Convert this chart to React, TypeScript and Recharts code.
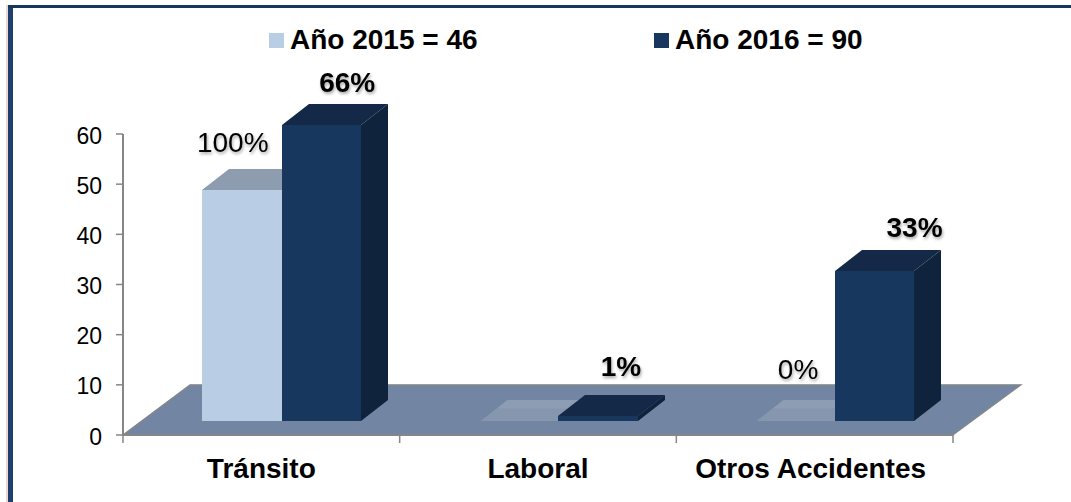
import React from 'react';
import { BarChart, Bar, XAxis, YAxis, Legend, ReferenceArea, LabelList } from 'recharts';

const categories = ['Tránsito', 'Laboral', 'Otros Accidentes'];
const values2015 = [46, 0, 0];
const values2016 = [59, 1, 30];
const labels2015 = ['100%', '', '0%'];
const labels2016 = ['66%', '1%', '33%'];
const yTicks = [0, 10, 20, 30, 40, 50, 60];
const name2015 = 'Año 2015 = 46';
const name2016 = 'Año 2016 = 90';

const rows = categories.map((c, i) => ({ c, a: values2015[i], b: values2016[i] }));

const FONT = '"Liberation Sans", Arial, sans-serif';
const AXIS = '#868686';
const PLOT_W = 830;
const SHIFT_X = 20;
const SHIFT_Y = 14;
const DEPTH_X = 27;
const DEPTH_Y = 21;
const SHADOW = 'drop-shadow(1px 2px 1.5px rgba(0,0,0,0.35))';

const pts = (p: number[][]) => p.map((q) => q.join(',')).join(' ');

function box(front: string, top: string, side: string, zeroFill: string) {
  return (props: any) => {
    const { x, y, width, height } = props;
    const l = Math.round(x + SHIFT_X);
    const r = Math.round(x + SHIFT_X + width);
    const t = Math.round(y - SHIFT_Y);
    const b = Math.round(y - SHIFT_Y + height);
    if (height < 0.5) {
      const zl = l + 1.5;
      return (
        <g>
          <polygon points={pts([[zl, b], [r, b], [r + DEPTH_X, b - DEPTH_Y], [zl + DEPTH_X, b - DEPTH_Y]])} fill={zeroFill} />
          <polygon points={pts([[zl + DEPTH_X * 0.6, b - DEPTH_Y * 0.6], [r + DEPTH_X * 0.6, b - DEPTH_Y * 0.6], [r + DEPTH_X, b - DEPTH_Y], [zl + DEPTH_X, b - DEPTH_Y]])} fill="#ffffff" fillOpacity={0.07} />
        </g>
      );
    }
    return (
      <g>
        <polygon points={pts([[l, t], [r, t], [r + DEPTH_X, t - DEPTH_Y], [l + DEPTH_X, t - DEPTH_Y]])} fill={top} />
        <polygon points={pts([[r, t], [r + DEPTH_X, t - DEPTH_Y], [r + DEPTH_X, b - DEPTH_Y], [r, b]])} fill={side} />
        <rect x={l} y={t} width={r - l} height={b - t} fill={front} />
      </g>
    );
  };
}

const floor = (props: any) => {
  const { x, y, width, height } = props;
  const b = y + height;
  return (
    <polygon
      points={pts([[x, b], [x + width, b], [x + width + 68, y], [x + 67, y]])}
      fill="#7286a3"
      stroke={AXIS}
      strokeWidth={1.2}
    />
  );
};

const nudges2015: Record<string, number[]> = { '100%': [11, -52], '0%': [23, -56] };
const nudges2016: Record<string, number[]> = { '66%': [46, -47], '1%': [43, -54], '33%': [60, -48] };

function dataLabel(labels: string[], nudges: Record<string, number[]>, weight: number) {
  return (props: any) => {
    const { x, y, width, index } = props;
    const text = labels[index];
    if (!text) return null;
    const [dx, dy] = nudges[text];
    return (
      <text
        x={x + width / 2 + dx}
        y={y + dy}
        textAnchor="middle"
        fontFamily={FONT}
        fontSize={28}
        fontWeight={weight}
        fill="#000"
        style={{ filter: SHADOW }}
      >
        {text}
      </text>
    );
  };
}

const categoryTick = (props: any) => {
  const { x, payload, index } = props;
  const half = PLOT_W / categories.length / 2;
  const nudge = index === categories.length - 1 ? -4 : 0;
  return (
    <g>
      <line x1={x - half} x2={x - half} y1={435} y2={443} stroke={AXIS} strokeWidth={1.5} />
      {index === categories.length - 1 && (
        <line x1={x + half} x2={x + half} y1={435} y2={443} stroke={AXIS} strokeWidth={1.5} />
      )}
      <text x={x + nudge} y={478} textAnchor="middle" fontFamily={FONT} fontSize={28} fontWeight={700} fill="#000">
        {payload.value}
      </text>
    </g>
  );
};

const valueTick = (props: any) => {
  const { y, payload } = props;
  return (
    <text x={102} y={y + 9.5} textAnchor="end" fontFamily={FONT} fontSize={23} fill="#000">
      {payload.value}
    </text>
  );
};

const legendContent = (props: any) => {
  const lefts = [269, 654];
  return (
    <div style={{ position: 'relative', width: 1071, height: 40 }}>
      {(props.payload || []).map((e: any, i: number) => (
        <div
          key={e.value}
          style={{
            position: 'absolute',
            left: lefts[i],
            top: 0,
            display: 'flex',
            alignItems: 'center',
            height: 40,
            whiteSpace: 'nowrap',
            fontFamily: FONT,
            fontSize: 28,
            fontWeight: 700,
            color: '#000',
          }}
        >
          <span style={{ display: 'inline-block', width: 15, height: 15, background: e.color, marginRight: 6 }} />
          {e.value}
        </div>
      ))}
    </div>
  );
};

export default function App() {
  return (
    <div style={{ position: 'fixed', left: 0, top: 0, width: 1071, height: 502, background: '#fff', overflow: 'hidden' }}>
      <div style={{ position: 'absolute', left: 6, top: 5, width: 2, height: 497, background: '#ecd9d4' }} />
      <div style={{ position: 'absolute', left: 8, top: 5, width: 4.5, height: 497, background: '#1f3f6c' }} />
      <div style={{ position: 'absolute', left: 8, top: 5, width: 1063, height: 3, background: '#17375e' }} />
      <BarChart
        width={1071}
        height={502}
        data={rows}
        margin={{ top: 94, right: 118, bottom: 0, left: 0 }}
        barSize={79.5}
        barGap={0}
        style={{ position: 'absolute', left: 0, top: 0 }}
      >
        <XAxis
          dataKey="c"
          axisLine={{ stroke: AXIS, strokeWidth: 2 }}
          tickLine={false}
          tick={categoryTick}
          height={67}
          interval={0}
        />
        <YAxis
          domain={[0, 60]}
          ticks={yTicks}
          width={123}
          axisLine={{ stroke: AXIS, strokeWidth: 2 }}
          tickLine={{ stroke: AXIS, strokeWidth: 1.5 }}
          tickSize={7}
          interval={0}
          tick={valueTick}
        />
        <Legend
          verticalAlign="top"
          content={legendContent}
          wrapperStyle={{ position: 'absolute', left: 0, top: 20, width: 1071, height: 40 }}
        />
        <ReferenceArea y1={0} y2={10} shape={floor} />
        <Bar dataKey="a" name={name2015} fill="#b9cde5" isAnimationActive={false} shape={box('#b9cde5', '#8e9cb0', '#8e9cb0', '#8596ae')}>
          <LabelList dataKey="a" content={dataLabel(labels2015, nudges2015, 400)} />
        </Bar>
        <Bar dataKey="b" name={name2016} fill="#17375e" isAnimationActive={false} shape={box('#17375e', '#132947', '#0f233d', '#132947')}>
          <LabelList dataKey="b" content={dataLabel(labels2016, nudges2016, 700)} />
        </Bar>
      </BarChart>
    </div>
  );
}
